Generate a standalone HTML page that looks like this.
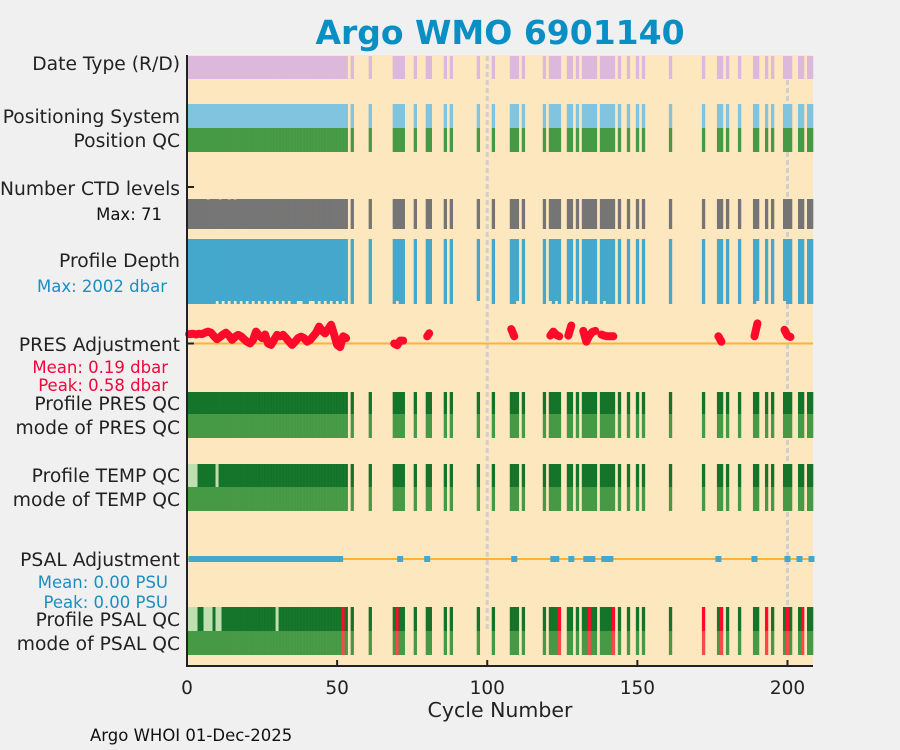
<!DOCTYPE html>
<html><head><meta charset="utf-8"><style>
html,body{margin:0;padding:0;background:#f0f0f0;}
svg{display:block;font-family:"DejaVu Sans","Liberation Sans",sans-serif;}
</style></head><body>
<svg id="chart" width="900" height="750" viewBox="0 0 900 750">
<rect x="0" y="0" width="900" height="750" fill="#f0f0f0"/>
<text x="500" y="44" text-anchor="middle" font-size="33" font-weight="bold" fill="#0a8fc4">Argo WMO 6901140</text>
<rect x="187" y="55" width="626" height="611" fill="#fde7bf"/>
<g id="marks"></g>
<line x1="187" y1="55" x2="187" y2="666" stroke="#222" stroke-width="2"/>
<line x1="186" y1="666" x2="813" y2="666" stroke="#222" stroke-width="2"/>
<g id="xticks"></g>
<text x="500" y="717" text-anchor="middle" font-size="20.5" fill="#222">Cycle Number</text>
<g font-size="18.7" fill="#222" text-anchor="end">
<text x="180" y="70">Date Type (R/D)</text>
<text x="180" y="123">Positioning System</text>
<text x="180" y="147">Position QC</text>
<text x="180" y="195">Number CTD levels</text>
<text x="180" y="267">Profile Depth</text>
<text x="180" y="351">PRES Adjustment</text>
<text x="180" y="410">Profile PRES QC</text>
<text x="180" y="434">mode of PRES QC</text>
<text x="180" y="482">Profile TEMP QC</text>
<text x="180" y="506">mode of TEMP QC</text>
<text x="180" y="566">PSAL Adjustment</text>
<text x="180" y="626">Profile PSAL QC</text>
<text x="180" y="650">mode of PSAL QC</text>
</g>
<g font-size="16.5" text-anchor="end">
<text x="162" y="220" fill="#111">Max: 71</text>
<text x="167" y="292" fill="#1a8fc0">Max: 2002 dbar</text>
<text x="168" y="373" fill="#f0063a">Mean: 0.19 dbar</text>
<text x="168" y="391" fill="#f0063a">Peak: 0.58 dbar</text>
<text x="168" y="588" fill="#1a8fc0">Mean: 0.00 PSU</text>
<text x="168" y="608" fill="#1a8fc0">Peak: 0.00 PSU</text>
</g>
<text x="90" y="741" font-size="16.5" fill="#111">Argo WHOI 01-Dec-2025</text>
</svg>
<script>
const cycles = [0,1,2,3,4,5,6,7,8,9,10,11,12,13,14,15,16,17,18,19,20,21,22,23,24,25,26,27,28,29,30,31,32,33,34,35,36,37,38,39,40,41,42,43,44,45,46,47,48,49,50,51,52,53,
55,61,69,70,71,72,76,80,81,86,88,97,102,108,109,110,112,119,121,122,123,124,127,128,130,132,133,134,135,136,138,139,140,141,142,144,147,150,152,161,172,177,178,180,184,189,190,193,195,199,200,201,204,205,207,208];
const presAdj = [0.26,0.26,0.27,0.25,0.27,0.26,0.3,0.33,0.3,0.2,0.12,0.18,0.25,0.3,0.22,0.1,0.18,0.24,0.2,0.12,0.05,0.0,0.1,0.33,0.22,0.15,0.25,0.0,-0.04,0.1,0.24,0.2,0.24,0.15,0.05,-0.04,0.05,0.15,0.19,0.15,0.05,0.1,0.2,0.3,0.47,0.35,0.28,0.4,0.52,0.25,-0.04,-0.1,
0.2,0.15,0.18,0.12,0.0,-0.05,0.08,0.08,0.08,0.2,0.2,0.2,0.2,0.3,0.45,0.4,0.2,0.45,0.38,0.3,0.22,0.33,0.24,0.2,0.22,0.5,0.58,0.35,0.05,0.22,0.32,0.35,0.25,0.22,0.2,0.2,0.2,0.2,0.2,0.2,0.05,0.18,0.2,0.2,0.05,0.12,0.2,0.2,0.56,0.38,0.18,0.38,0.22,0.18,0.1];
const presVisible = [0,1,2,3,4,5,6,7,8,9,10,11,12,13,14,15,16,17,18,19,20,21,22,23,24,25,26,27,28,29,30,31,32,33,34,35,36,37,38,39,40,41,42,43,44,45,46,47,48,49,50,51,52,53,69,70,71,72,80,108,109,121,122,123,124,127,128,132,133,134,135,136,138,139,140,141,142,177,178,189,190,199,200,201,204,205,207,208];
const psalVisible = [0,1,2,3,4,5,6,7,8,9,10,11,12,13,14,15,16,17,18,19,20,21,22,23,24,25,26,27,28,29,30,31,32,33,34,35,36,37,38,39,40,41,42,43,44,45,46,47,48,49,50,51,52,70,71,72,80,109,121,122,123,124,128,132,133,134,135,136,138,139,140,141,142,177,189,199,200,204,208];
const ctdLevels70 = [7,11,14,16];
const shallowCycles = [10,12,14,16,18,20,22,24,26,28,30,32,34,37,38,41,42,44,46,48,50,52,70,97,110,121,123,128,133,139,190,199];
const tempProbable = [0,1,2,3,10];
const psalProbable = [0,1,2,3,6,7,8,10,11,30];
const psalBad = [52,70,124,134,142,172,178,193,200,205];
const xTicks = [0,50,100,150,200];
const maxLevels = 71, maxDepth = 2002;

const X0 = 187, XMAX = 208.5, W = 626;
const xs = c => X0 + c / XMAX * W;
const yPres = v => 343.5 - v * 36;
const NS = 'http://www.w3.org/2000/svg';
const g = document.getElementById('marks');
function mk(tag, attrs, parent) {
  const el = document.createElementNS(NS, tag);
  for (const k in attrs) el.setAttribute(k, attrs[k]);
  (parent || g).appendChild(el);
  return el;
}
function cell(c, y0, y1, fill, name) {
  let a = Math.max(xs(c - 0.5), X0), b = Math.min(xs(c + 0.5), X0 + W);
  const el = mk('rect', {x: a, y: y0, width: b - a + 0.3, height: y1 - y0, fill: fill});
  
  
}
[100, 200].forEach(v => {
  const l = mk('line', {x1: xs(v), x2: xs(v), y1: 56, y2: 632, stroke: '#d0d0d0', 'stroke-width': 3, 'stroke-dasharray': '5,3'});
  
  
});
cycles.forEach(c => {
  cell(c, 56, 79, '#dcb8dc', 'date-type-cell');
  cell(c, 104, 128, '#80c4e0', 'positioning-system-cell');
  cell(c, 128, 152, '#469a46', 'position-qc-cell');
  const lv = ctdLevels70.includes(c) ? 70 : maxLevels;
  cell(c, 229 - lv / maxLevels * 30, 229, '#757575', 'ctd-levels-bar');
  const d = shallowCycles.includes(c) ? 1910 : maxDepth;
  cell(c, 239, 239 + d / maxDepth * 65, '#43a8cc', 'profile-depth-bar');
  cell(c, 392, 414, '#14752a', 'pres-qc-cell');
  cell(c, 414, 438, '#469a46', 'pres-qc-mode-cell');
  cell(c, 464, 487, tempProbable.includes(c) ? '#c0dfb0' : '#14752a', 'temp-qc-cell');
  cell(c, 487, 511, '#469a46', 'temp-qc-mode-cell');
  const bad = psalBad.includes(c);
  cell(c, 607, 631, bad ? '#ff0a2a' : (psalProbable.includes(c) ? '#c0dfb0' : '#14752a'), 'psal-qc-cell');
  cell(c, 631, 655, bad ? '#f84848' : '#469a46', 'psal-qc-mode-cell');
});
[343.5, 559].forEach(y => {
  const l = mk('line', {x1: X0 + 1, x2: X0 + W, y1: y, y2: y, stroke: '#ffb236', 'stroke-width': 2});
  
  
});
function runs(list) {
  const out = []; let cur = [];
  list.forEach(c => { if (cur.length && c !== cur[cur.length - 1] + 1) { out.push(cur); cur = []; } cur.push(c); });
  if (cur.length) out.push(cur);
  return out;
}
runs(psalVisible).forEach(r => {
  const a = xs(Math.max(r[0], 0.5)), b = xs(r[r.length - 1]);
  const w = Math.max(b - a, 6);
  const el = mk('rect', {x: r.length === 1 ? a - 3 : a, y: 556, width: w, height: 6, fill: '#43a8cc'});
  
  
});
runs(presVisible).forEach(r => {
  const pts = r.map(c => xs(Math.max(c, 0.7)) + ',' + yPres(presAdj[cycles.indexOf(c)]));
  if (r.length === 1) pts.push((xs(r[0]) + 2) + ',' + (yPres(presAdj[cycles.indexOf(r[0])]) - 3));
  const el = mk('polyline', {points: pts.join(' '), fill: 'none', stroke: '#ff0a2a', 'stroke-width': 8, 'stroke-linejoin': 'round', 'stroke-linecap': 'round'});
  
  
});
[187, 343.5].forEach(y => {
  const l = mk('line', {x1: X0, x2: X0 + 7, y1: y, y2: y, stroke: '#222', 'stroke-width': 2});
  
  
});
const xt = document.getElementById('xticks');
xTicks.forEach(v => {
  const l = mk('line', {x1: xs(v), x2: xs(v), y1: 660, y2: 666, stroke: '#222', 'stroke-width': 2}, xt);
  
  
  const t = mk('text', {x: xs(v), y: 694, 'text-anchor': 'middle', 'font-size': 18.5, fill: '#222'}, xt);
  t.textContent = v;
  
  
});
</script>
</body></html>
